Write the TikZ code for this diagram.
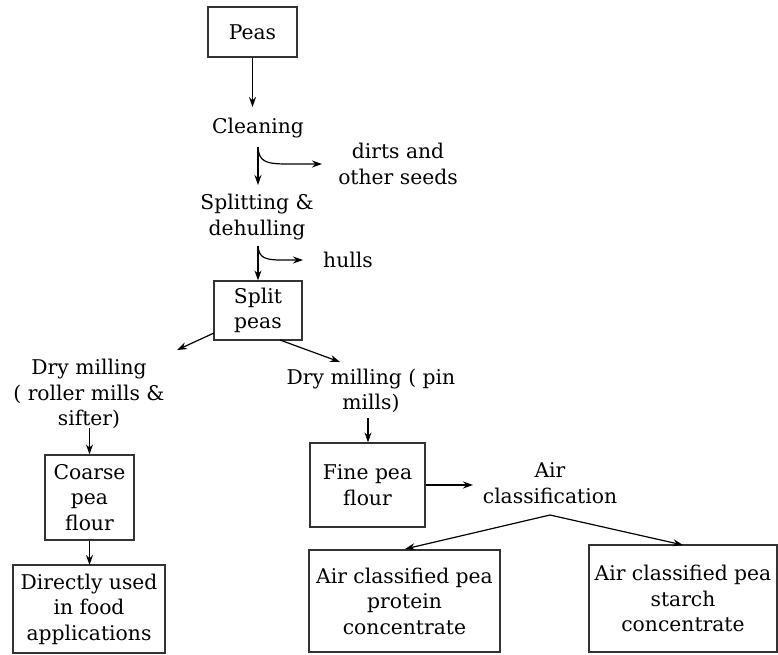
\documentclass[tikz,border=0pt]{standalone}
\usepackage{fontspec}
\setmainfont{DejaVu Serif}
\usetikzlibrary{arrows.meta}
\begin{document}
\begin{tikzpicture}[x=1pt,y=-1pt,
  every node/.style={font=\fontsize{20.3}{25.5}\selectfont, align=center, inner sep=0pt, text=black},
  box/.style={draw=black!80, line width=1.2pt},
  arr/.style={draw=black, line width=1.2pt, -{Stealth[length=10pt,width=7pt]}}]
\useasboundingbox (0,0) rectangle (778,654);
% boxes
\node[box, minimum width=89pt, minimum height=50pt] (peas) at (252.5,32) {Peas};
\node (clean) at (258,128) {Cleaning};
\node (dirts) at (398,164) {dirts and\\other seeds};
\node (split) at (257,217) {Splitting \&\\dehulling};
\node (hulls) at (348,260) {hulls};
\node[box, minimum width=88pt, minimum height=59pt] (sp) at (258,310.5) {Split\\peas};
\node (dml) at (89,394) {Dry milling\\( roller mills \&\\sifter)};
\node (dmr) at (371,391) {Dry milling ( pin\\mills)};
\node[box, minimum width=89pt, minimum height=85pt] (coarse) at (89.5,497.5) {Coarse\\pea\\flour};
\node[box, minimum width=152pt, minimum height=88pt] (direct) at (89,609) {Directly used\\in food\\applications};
\node[box, minimum width=115pt, minimum height=84pt] (fine) at (367.5,485) {Fine pea\\flour};
\node (air) at (550,483) {Air\\classification};
\node[box, minimum width=191pt, minimum height=102pt] (prot) at (404.5,601) {Air classified pea\\protein\\concentrate};
\node[box, minimum width=188pt, minimum height=107pt] (starch) at (683,598.5) {Air classified pea\\starch\\concentrate};
% coordinates
\coordinate (c1) at (258,147);
\coordinate (c1b) at (258,185);
\coordinate (c1r) at (322,164);
\coordinate (c2) at (258,246);
\coordinate (c2r) at (303,260);
\coordinate (spl) at (214,333);
\coordinate (spr) at (280,340);
\coordinate (dmlt) at (177,350);
\coordinate (dmrt) at (340,362);
\coordinate (a1) at (550,515);
\coordinate (pt) at (405,549);
\coordinate (st) at (683,545);
\coordinate (ft) at (473,485);
% connectors
\draw[arr] (peas.south) -- (252.5,107);
\draw[arr] (c1) -- (c1b);
\draw[arr] (c1) .. controls (259,162) and (266,164) .. (288,164) -- (c1r);
\draw[arr] (c2) -- (sp.north);
\draw[arr] (c2) .. controls (259,258) and (265,260) .. (282,260) -- (c2r);
\draw[arr] (spl) -- (dmlt);
\draw[arr] (spr) -- (dmrt);
\draw[arr] (89.5,428) -- (coarse.north);
\draw[arr] (coarse.south) -- (89.5,565);
\draw[arr] (368,418) -- (fine.north -| 368,0);
\draw[arr] (fine.east) -- (ft);
\draw[arr] (a1) -- (pt);
\draw[arr] (a1) -- (st);
\end{tikzpicture}
\end{document}
